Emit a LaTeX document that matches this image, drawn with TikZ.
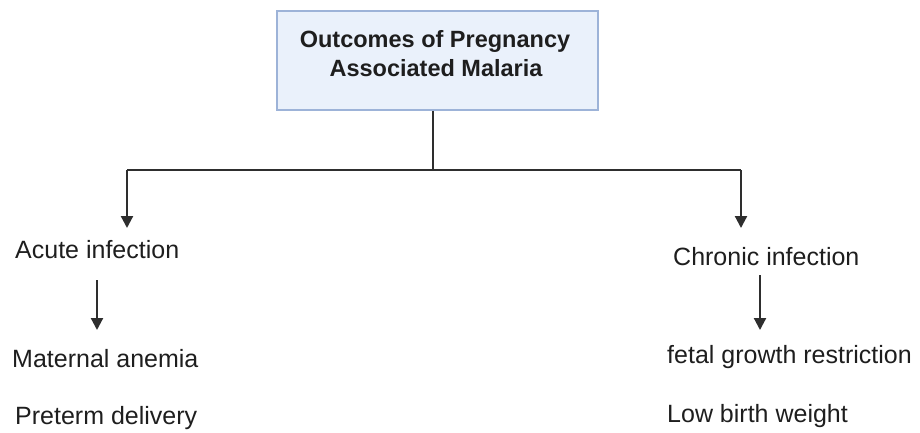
\documentclass[tikz,border=0pt]{standalone}
\usepackage{fontspec}
\setmainfont{Liberation Sans}
\usetikzlibrary{arrows.meta}
\definecolor{boxfill}{HTML}{EAF1FB}
\definecolor{boxline}{HTML}{9DB3D8}
\definecolor{ink}{HTML}{1E1E1E}
\definecolor{linec}{HTML}{2E2E2E}
\begin{document}
\begin{tikzpicture}[x=1pt,y=-1pt,
  lbl/.style={anchor=base west,inner sep=0pt,text=ink,font=\fontsize{25}{30}\selectfont},
  ttl/.style={anchor=base,inner sep=0pt,text=ink,font=\bfseries\fontsize{23.5}{28}\selectfont},
  conn/.style={draw=linec,line width=2.2pt},
  arr/.style={conn,-{Triangle[length=12pt,width=12pt]}}]
\useasboundingbox (0,0) rectangle (920,432);
\node[draw=boxline,fill=boxfill,line width=1.5pt,minimum width=321pt,minimum height=99pt,inner sep=0pt] (top) at (437.5,60.5) {};
\node[ttl] (title1) at (435,47) {Outcomes of Pregnancy};
\node[ttl] (title2) at (436,76) {Associated Malaria};
\coordinate (j) at (433,170);
\coordinate (jl) at (127,170);
\coordinate (jr) at (741,170);
\node[lbl] (acute) at (15,258) {Acute infection};
\node[lbl] (chronic) at (673,265) {Chronic infection};
\node[lbl] (mat) at (12,367) {Maternal anemia};
\node[lbl] (pre) at (15,424) {Preterm delivery};
\node[lbl] (fetal) at (667,363) {fetal growth restriction};
\node[lbl] (low) at (667,422) {Low birth weight};
\coordinate (la) at (127,228);
\coordinate (ra) at (741,228);
\draw[conn] (top.south -| j) -- (j);
\draw[conn] (jl) -- (jr);
\draw[arr] (jl) -- (la);
\draw[arr] (jr) -- (ra);
\draw[arr] (97,280) -- (97,330);
\draw[arr] (760,275) -- (760,330);
\end{tikzpicture}
\end{document}
